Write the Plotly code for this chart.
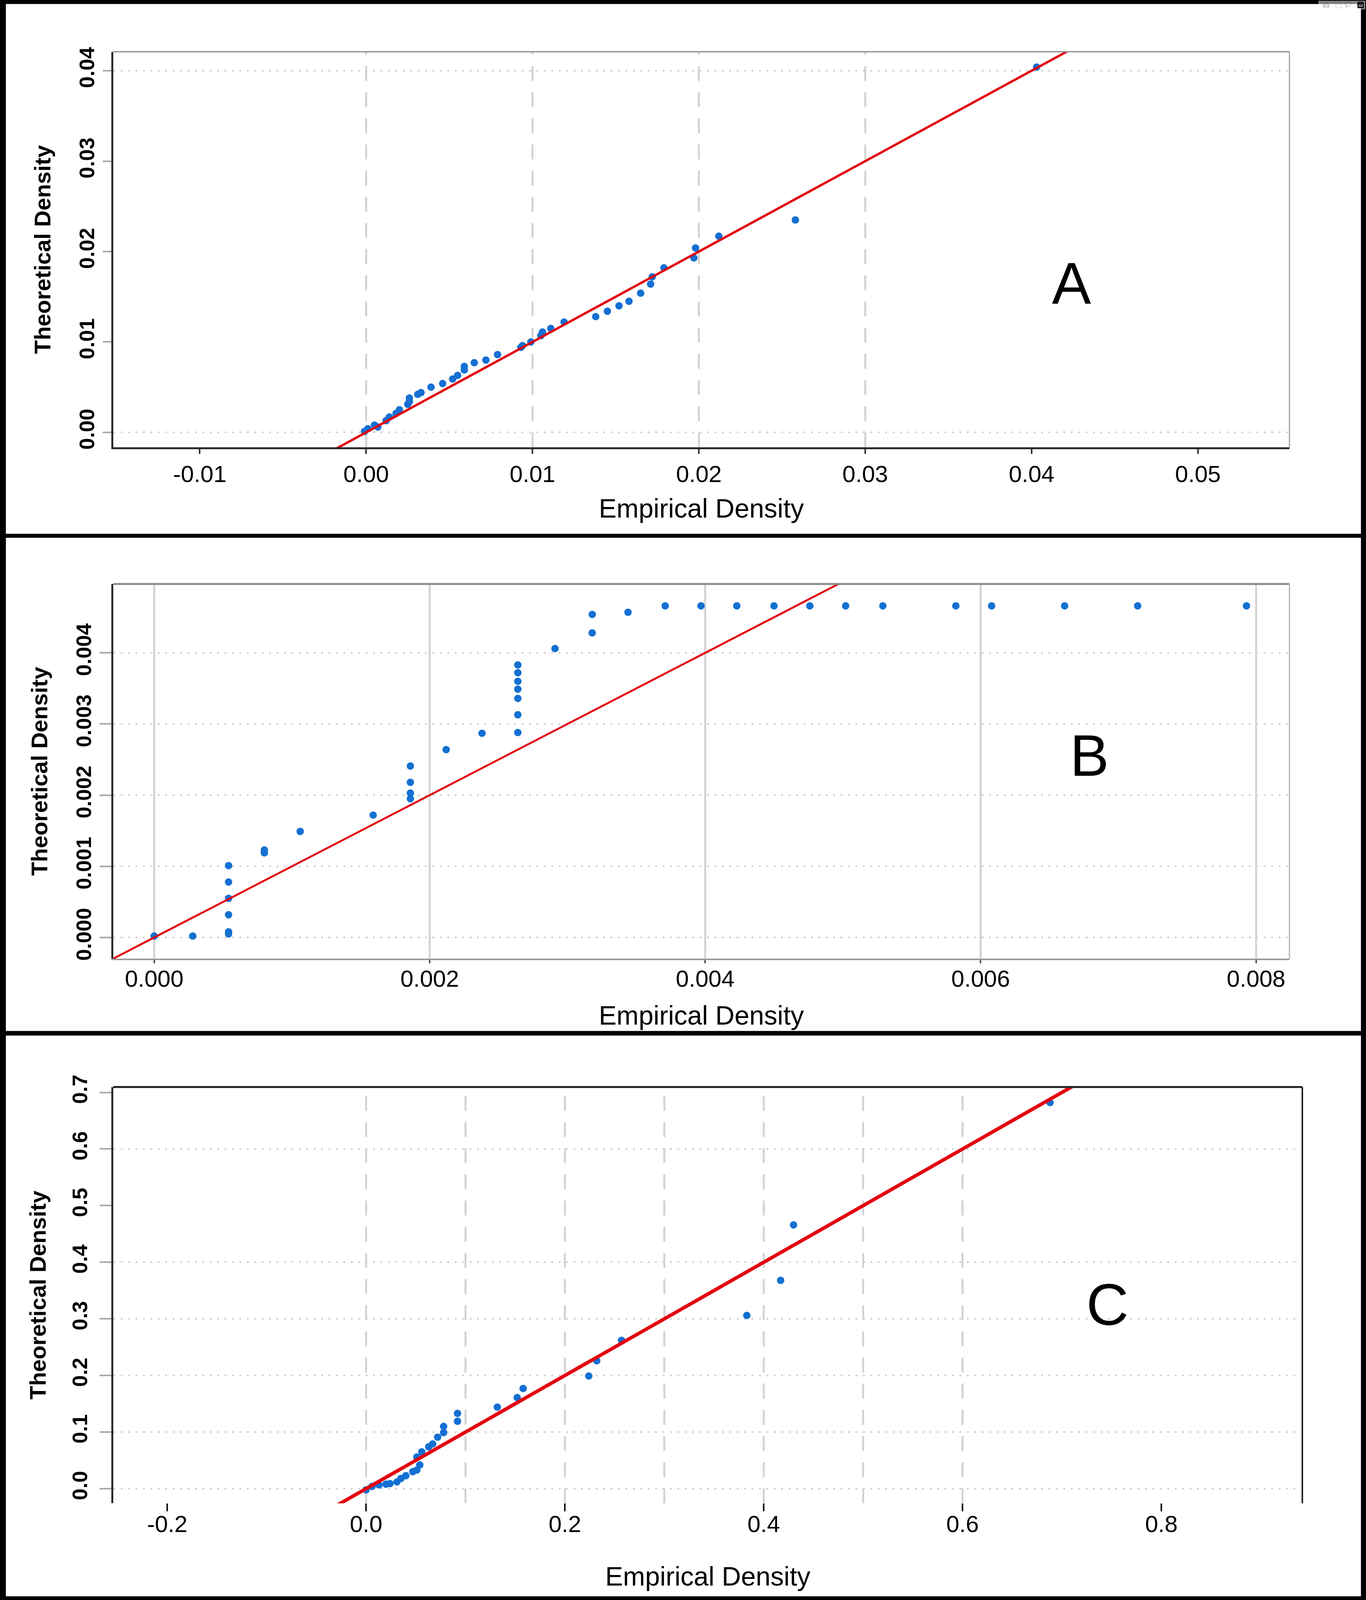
import plotly.graph_objects as go

W, H = 3497, 5162          # reference size; layout is expressed as fractions of it

# ---------------- data ----------------
# Panel A
A_x = [-0.0001, 0.0001, 0.0005, 0.0007, 0.0012, 0.0014, 0.0018, 0.0020, 0.0025, 0.0026,
       0.0026, 0.0031, 0.0033, 0.0039, 0.0046, 0.0052, 0.0055, 0.0059, 0.0059, 0.0065,
       0.0072, 0.0079, 0.0093, 0.0094, 0.0099, 0.0105, 0.0106, 0.0111, 0.0119, 0.0138,
       0.0145, 0.0152, 0.0158, 0.0165, 0.0171, 0.0172, 0.0179, 0.0197, 0.0198, 0.0212,
       0.0258, 0.0403]
A_y = [0.0001, 0.0004, 0.0008, 0.0006, 0.0013, 0.0017, 0.0021, 0.0025, 0.0031, 0.0034,
       0.0038, 0.0042, 0.0044, 0.0050, 0.0054, 0.0059, 0.0063, 0.0069, 0.0073, 0.0077,
       0.0080, 0.0086, 0.0094, 0.0096, 0.0100, 0.0107, 0.0111, 0.0115, 0.0122, 0.0128,
       0.0134, 0.0140, 0.0145, 0.0154, 0.0164, 0.0172, 0.0182, 0.0193, 0.0204, 0.0217,
       0.0235, 0.0404]
A_xticks = [-0.01, 0.00, 0.01, 0.02, 0.03, 0.04, 0.05]
A_xticktext = ["-0.01", "0.00", "0.01", "0.02", "0.03", "0.04", "0.05"]
A_yticks = [0.00, 0.01, 0.02, 0.03, 0.04]
A_yticktext = ["0.00", "0.01", "0.02", "0.03", "0.04"]
A_xrange = [-0.0152, 0.0555]
A_yrange = [-0.00165, 0.0421]
A_vgrid = [0.00, 0.01, 0.02, 0.03]
A_hgrid = [0.00, 0.04]

# Panel B
B_x = [0.0, 0.00028, 0.00054, 0.00054, 0.00054, 0.00054, 0.00054, 0.00054, 0.00080, 0.00080,
       0.00106, 0.00159, 0.00186, 0.00186, 0.00186, 0.00186, 0.00212, 0.00238,
       0.00264, 0.00264, 0.00264, 0.00264, 0.00264, 0.00264, 0.00264,
       0.00291, 0.00318, 0.00318, 0.00344,
       0.00371, 0.00397, 0.00423, 0.00450, 0.00476, 0.00502, 0.00529, 0.00582, 0.00608,
       0.00661, 0.00714, 0.00793]
B_y = [0.00002, 0.00002, 0.00005, 0.00008, 0.00032, 0.00055, 0.00078, 0.00101, 0.00119, 0.00123,
       0.00149, 0.00172, 0.00195, 0.00203, 0.00218, 0.00241, 0.00264, 0.00287,
       0.00288, 0.00313, 0.00336, 0.00349, 0.00360, 0.00372, 0.00383,
       0.00406, 0.00428, 0.00454, 0.00457,
       0.00466, 0.00466, 0.00466, 0.00466, 0.00466, 0.00466, 0.00466, 0.00466, 0.00466,
       0.00466, 0.00466, 0.00466]
B_xticks = [0.000, 0.002, 0.004, 0.006, 0.008]
B_xticktext = ["0.000", "0.002", "0.004", "0.006", "0.008"]
B_yticks = [0.000, 0.001, 0.002, 0.003, 0.004]
B_yticktext = ["0.000", "0.001", "0.002", "0.003", "0.004"]
B_xrange = [-0.000297, 0.008242]
B_yrange = [-0.000298, 0.004968]
B_vgrid = [0.000, 0.002, 0.004, 0.006, 0.008]
B_hgrid = [0.000, 0.001, 0.002, 0.003, 0.004]

# Panel C
C_x = [0.000, 0.006, 0.013, 0.020, 0.024, 0.031, 0.035, 0.040, 0.047, 0.051,
       0.054, 0.051, 0.056, 0.063, 0.067, 0.072, 0.078, 0.078, 0.092, 0.092,
       0.132, 0.152, 0.158, 0.224, 0.232, 0.257, 0.383, 0.417, 0.430, 0.688]
C_y = [-0.002, 0.004, 0.0065, 0.008, 0.009, 0.012, 0.018, 0.023, 0.030, 0.033,
       0.042, 0.056, 0.065, 0.074, 0.079, 0.091, 0.099, 0.110, 0.119, 0.133,
       0.144, 0.161, 0.177, 0.199, 0.226, 0.262, 0.306, 0.368, 0.466, 0.682]
C_xticks = [-0.2, 0.0, 0.2, 0.4, 0.6, 0.8]
C_xticktext = ["-0.2", "0.0", "0.2", "0.4", "0.6", "0.8"]
C_yticks = [0.0, 0.1, 0.2, 0.3, 0.4, 0.5, 0.6, 0.7]
C_yticktext = ["0.0", "0.1", "0.2", "0.3", "0.4", "0.5", "0.6", "0.7"]
C_xrange = [-0.2543, 0.9418]
C_yrange = [-0.0258, 0.7095]
C_vgrid = [0.0, 0.1, 0.2, 0.3, 0.4, 0.5, 0.6]
C_hgrid = [0.0, 0.1, 0.2, 0.3, 0.4, 0.6]

X_TITLE = "Empirical Density"
Y_TITLE = "Theoretical Density"
PANEL_LABELS = ["A", "B", "C"]

# ---------------- style ----------------
BLUE = "#1470d2"
RED = "#e3000f"
FONT = "Liberation Sans, Arial, sans-serif"

def px_x(p):
    return p / W

def px_y(p):
    return 1 - p / H

fig = go.Figure()

panels = [
    dict(x=A_x, y=A_y, xr=A_xrange, yr=A_yrange, xt=A_xticks, xtt=A_xticktext,
         yt=A_yticks, ytt=A_yticktext, vg=A_vgrid, hg=A_hgrid, vdash="38px,29px",
         box=(290, 3301, 167, 1443), lw=6, label=PANEL_LABELS[0], lpos=(0.0424, 0.0165)),
    dict(x=B_x, y=B_y, xr=B_xrange, yr=B_yrange, xt=B_xticks, xtt=B_xticktext,
         yt=B_yticks, ytt=B_yticktext, vg=B_vgrid, hg=B_hgrid, vdash="solid",
         box=(290, 3301, 1884, 3093), lw=5, label=PANEL_LABELS[1], lpos=(0.00679, 0.00256)),
    dict(x=C_x, y=C_y, xr=C_xrange, yr=C_yrange, xt=C_xticks, xtt=C_xticktext,
         yt=C_yticks, ytt=C_yticktext, vg=C_vgrid, hg=C_hgrid, vdash="38px,29px",
         box=(290, 3334, 3507, 4850), lw=9, label=PANEL_LABELS[2], lpos=(0.7457, 0.325)),
]

shapes = []
annotations = []

bottom_line = [dict(show=True, color="#2a2a2a", width=5),
               dict(show=True, color="#9a9a9a", width=4),
               dict(show=False, color="#000", width=0)]
top_line = [("#8a8a8a", 3), ("#8a8a8a", 5), ("#222222", 5)]
right_line = [("#a0a0a0", 3), ("#b0b0b0", 3), ("#222222", 4)]
xtick_color = ["#333333", "#555555", "#111111"]
xtick_len = [12, 8, 20]
xlabel_standoff = [0, -12, -19]
xtitle_standoff = [33, 38, 76]
ytick_len = [22, 30, 30]
ylabel_standoff = [0, 0, 10]
ytitle_standoff = [46, 46, 40]

for i, p in enumerate(panels):
    n = "" if i == 0 else str(i + 1)
    xa, ya = "x" + n, "y" + n
    l, r, t, b = p["box"]

    fig.add_trace(go.Scatter(
        x=p["x"], y=p["y"], mode="markers", xaxis=xa, yaxis=ya,
        marker=dict(color=BLUE, size=19, line=dict(width=0)),
        showlegend=False, hoverinfo="skip"))
    # 1:1 reference line y = x across the axis range
    fig.add_trace(go.Scatter(
        x=[p["xr"][0], p["xr"][1]], y=[p["xr"][0], p["xr"][1]], mode="lines",
        xaxis=xa, yaxis=ya, line=dict(color=RED, width=p["lw"]),
        showlegend=False, hoverinfo="skip"))

    bl = bottom_line[i]
    fig.layout["xaxis" + n] = dict(
        domain=[px_x(l), px_x(r)], range=p["xr"], anchor=ya,
        tickmode="array", tickvals=p["xt"], ticktext=p["xtt"],
        ticks="outside", ticklen=xtick_len[i], tickwidth=4, tickcolor=xtick_color[i],
        ticklabelstandoff=xlabel_standoff[i],
        tickfont=dict(family=FONT, size=60, color="black"),
        showgrid=False, zeroline=False,
        showline=bl["show"], linecolor=bl["color"], linewidth=bl["width"],
        title=dict(text=X_TITLE, font=dict(family=FONT, size=68, color="black"),
                   standoff=xtitle_standoff[i]),
        automargin=False, fixedrange=True)
    fig.layout["yaxis" + n] = dict(
        domain=[px_y(b), px_y(t)], range=p["yr"], anchor=xa,
        tickmode="array", tickvals=p["yt"], ticktext=p["ytt"],
        ticks="outside", ticklen=ytick_len[i], tickwidth=4, tickcolor="#a8a8a8",
        ticklabelstandoff=ylabel_standoff[i],
        tickangle=-90,
        tickfont=dict(family=FONT, size=54, color="black", weight="bold"),
        showgrid=False, zeroline=False,
        showline=True, linecolor="#2a2a2a", linewidth=5,
        title=dict(text=Y_TITLE, font=dict(family=FONT, size=58, color="black", weight="bold"),
                   standoff=ytitle_standoff[i]),
        automargin=False, fixedrange=True)

    for g in p["vg"]:
        shapes.append(dict(type="line", xref=xa, yref=ya + " domain", x0=g, x1=g, y0=0, y1=1,
                           line=dict(color="#d2d2d2", width=5, dash=p["vdash"]), layer="below"))
    for g in p["hg"]:
        shapes.append(dict(type="line", xref=xa + " domain", yref=ya, x0=0, x1=1, y0=g, y1=g,
                           line=dict(color="#d0d0d0", width=4, dash="5px,14px"), layer="below"))
    tc, tw = top_line[i]
    rc, rw = right_line[i]
    shapes.append(dict(type="line", xref=xa + " domain", yref=ya + " domain",
                       x0=0, x1=1, y0=1, y1=1, line=dict(color=tc, width=tw)))
    shapes.append(dict(type="line", xref=xa + " domain", yref=ya + " domain",
                       x0=1, x1=1, y0=0, y1=1, line=dict(color=rc, width=rw)))

    annotations.append(dict(text=p["label"], xref=xa, yref=ya, x=p["lpos"][0], y=p["lpos"][1],
                            showarrow=False, font=dict(family=FONT, size=150, color="black")))

def band(x0, x1, y0, y1):
    return dict(type="rect", xref="paper", yref="paper",
                x0=px_x(x0), x1=px_x(x1), y0=px_y(y1), y1=px_y(y0),
                fillcolor="black", line=dict(width=0), layer="above")

shapes += [band(0, W, 0, 13), band(0, W, H - 12, H), band(0, 15, 0, H), band(W - 13, W, 0, H),
           band(0, W, 1722, 1735), band(0, W, 3326, 3341)]

fig.update_layout(
    autosize=True, margin=dict(l=0, r=0, t=0, b=0),
    paper_bgcolor="white", plot_bgcolor="white",
    shapes=shapes, annotations=annotations, showlegend=False,
    font=dict(family=FONT, color="black"))

post_js = """
document.body.style.margin='0';
document.body.style.overflow='hidden';
var gd = document.getElementById('{plot_id}');
Plotly.Plots.resize(gd);
"""

fig.write_html("out.html", default_width="100vw", default_height="100vh",
               config={"responsive": True}, post_script=post_js)
